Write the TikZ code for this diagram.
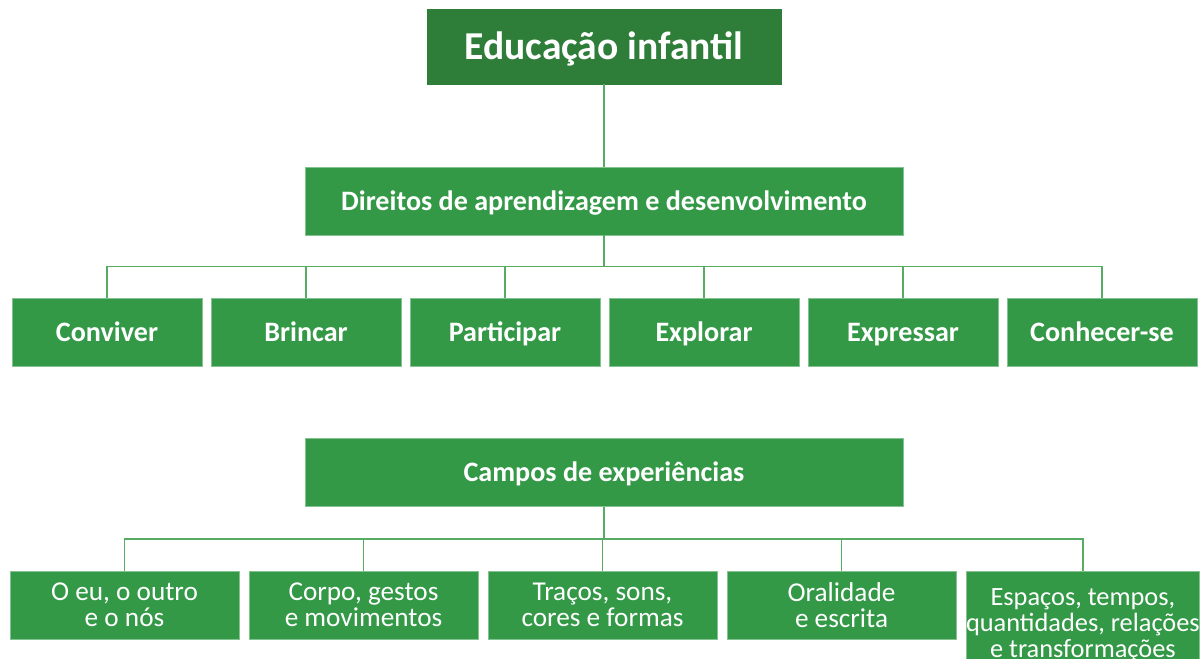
\documentclass[tikz,border=0pt]{standalone}
\usepackage{fontspec}
\setmainfont{Carlito}
\usepackage{xcolor}
\usetikzlibrary{positioning}
\definecolor{titlegreen}{RGB}{46,125,57}
\definecolor{boxgreen}{RGB}{51,153,71}
\definecolor{linegreen}{RGB}{86,172,98}

\begin{document}
\begin{tikzpicture}[
        box/.style={draw=boxgreen!60!white, line width=0.4pt, fill=boxgreen, text=white, rectangle, align=center, inner sep=0pt, outer sep=0pt},
        head/.style={box, font=\bfseries\fontsize{16}{19}\selectfont, text height=10.3pt, text depth=0pt, minimum width=11.96cm, minimum height=1.36cm},
        skill/.style={box, font=\bfseries\fontsize{16}{19}\selectfont, text height=10.3pt, text depth=0pt, minimum width=3.8cm, minimum height=1.36cm},
        field/.style={box, font=\fontsize{15.5}{14.8}\selectfont, minimum width=4.58cm, minimum height=1.36cm},
        link/.style={draw=linegreen, line width=1.1pt}
    ]
        \useasboundingbox (0,0) rectangle (24,13.16);

        % Nodes
        \node[box, fill=titlegreen, draw=titlegreen, font=\bfseries\fontsize{22.5}{27}\selectfont, text height=14.5pt, text depth=0pt, minimum width=7.08cm, minimum height=1.5cm] (titulo) at (12.08,12.23) {Educação infantil};
        \node[head, below=1.66cm of titulo] (direitos) {Direitos de aprendizagem e desenvolvimento};

        \node[skill] (conviver) at (2.14,6.52) {Conviver};
        \node[skill, right=0.18cm of conviver] (brincar) {Brincar};
        \node[skill, right=0.18cm of brincar] (participar) {Participar};
        \node[skill, right=0.18cm of participar] (explorar) {Explorar};
        \node[skill, right=0.18cm of explorar] (expressar) {Expressar};
        \node[skill, right=0.18cm of expressar] (conhecer) {Conhecer-se};

        \node[head] (campos) at (12.08,3.71) {Campos de experiências};

        \node[field] (eu) at (2.49,1.06) {O eu, o outro\\e o nós};
        \node[field, right=0.2cm of eu] (corpo) {Corpo, gestos\\e movimentos};
        \node[field, right=0.2cm of corpo] (tracos) {Traços, sons,\\cores e formas};
        \node[field, right=0.2cm of tracos] (oralidade) {Oralidade\\e escrita};
        \node[field, font=\fontsize{15}{14.8}\selectfont, minimum height=2.16cm, right=0.2cm of oralidade.north east, anchor=north west] (espacos) {Espaços, tempos,\\quantidades, relações\\e transformações};

        % Lines
        \draw[link] (titulo) -- (direitos);
        \draw[link] (direitos.south) -- ++(0,-0.63) -| (conviver.north);
        \draw[link] (direitos.south) -- ++(0,-0.63) -| (brincar.north);
        \draw[link] (direitos.south) -- ++(0,-0.63) -| (participar.north);
        \draw[link] (direitos.south) -- ++(0,-0.63) -| (explorar.north);
        \draw[link] (direitos.south) -- ++(0,-0.63) -| (expressar.north);
        \draw[link] (direitos.south) -- ++(0,-0.63) -| (conhecer.north);

        \draw[link] (campos.south) -- ++(0,-0.65) -| (eu.north);
        \draw[link] (campos.south) -- ++(0,-0.65) -| (corpo.north);
        \draw[link] (campos.south) -- ++(0,-0.65) -| (tracos.north);
        \draw[link] (campos.south) -- ++(0,-0.65) -| (oralidade.north);
        \draw[link] (campos.south) -- ++(0,-0.65) -| (espacos.north);
    \end{tikzpicture}
\end{document}
